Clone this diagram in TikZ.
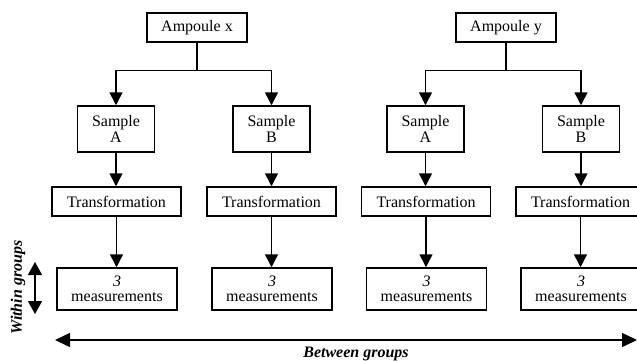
\documentclass[tikz,border=0pt]{standalone}
\usepackage{fontspec}
\setmainfont{Liberation Serif}
\usetikzlibrary{arrows.meta}
\begin{document}
\begin{tikzpicture}[x=1pt,y=-1pt,
  box/.style={draw, line width=1.5pt, inner sep=0pt, align=center,
    font=\fontsize{16}{15.5}\selectfont},
  amp/.style={box, minimum width=100pt, minimum height=29pt},
  smp/.style={box, minimum width=77pt, minimum height=46pt},
  trf/.style={box, minimum width=129pt, minimum height=29pt},
  msr/.style={box, minimum width=120pt, minimum height=42pt},
  line/.style={line width=1.5pt},
  arr/.style={line, -{Triangle[width=13pt,length=13pt]}},
  lbl/.style={font=\fontsize{16}{16}\selectfont\bfseries\itshape, inner sep=0pt}
]
\useasboundingbox (0,0) rectangle (637,360);
\clip (0,0) rectangle (637,360);

% group x
\node[amp] (ax) at (197,27.5) {Ampoule x};
\node[smp] (xa) at (116,129) {Sample\\A};
\node[smp] (xb) at (271.5,129) {Sample\\B};
\node[trf] (txa) at (116.5,201.5) {Transformation};
\node[trf] (txb) at (271.5,201.5) {Transformation};
\node[msr] (mxa) at (117,289) {\textit{3}\\measurements};
\node[msr] (mxb) at (272,289) {\textit{3}\\measurements};

% group y
\node[amp] (ay) at (506,27.5) {Ampoule y};
\node[smp] (ya) at (425.5,129) {Sample\\A};
\node[smp] (yb) at (581,129) {Sample\\B};
\node[trf] (tya) at (426,201.5) {Transformation};
\node[trf] (tyb) at (580.5,201.5) {Transformation};
\node[msr] (mya) at (426.5,289) {\textit{3}\\measurements};
\node[msr] (myb) at (581,289) {\textit{3}\\measurements};

\coordinate (jx) at (197,70.7);
\coordinate (jy) at (506,70.7);
\draw[line] (ax.south) -- (jx);
\draw[arr] (jx) -| (xa.north);
\draw[arr] (jx) -| (xb.north);
\draw[line] (ay.south) -- (jy);
\draw[arr] (jy) -| (ya.north);
\draw[arr] (jy) -| (yb.north);

\foreach \s/\t/\m in {xa/txa/mxa, xb/txb/mxb, ya/tya/mya, yb/tyb/myb}{
  \draw[arr] (\s.south) -- (\s.south |- \t.north);
  \draw[arr] (\t.south) -- (\t.south |- \m.north);
}

% within groups
\coordinate (w1) at (35,262);
\coordinate (w2) at (35,314);
\draw[line, {Triangle[width=14pt,length=13pt]}-{Triangle[width=14pt,length=13pt]}] (w1) -- (w2);
\node[lbl, rotate=90] (wl) at (18,287.5) {Within groups};

% between groups
\coordinate (b1) at (55,340);
\coordinate (b2) at (637,340);
\draw[line, {Triangle[width=14pt,length=15pt]}-{Triangle[width=14pt,length=15pt]}] (b1) -- (b2);
\node[lbl, anchor=base] (bl) at (356,357) {Between groups};
\end{tikzpicture}
\end{document}
